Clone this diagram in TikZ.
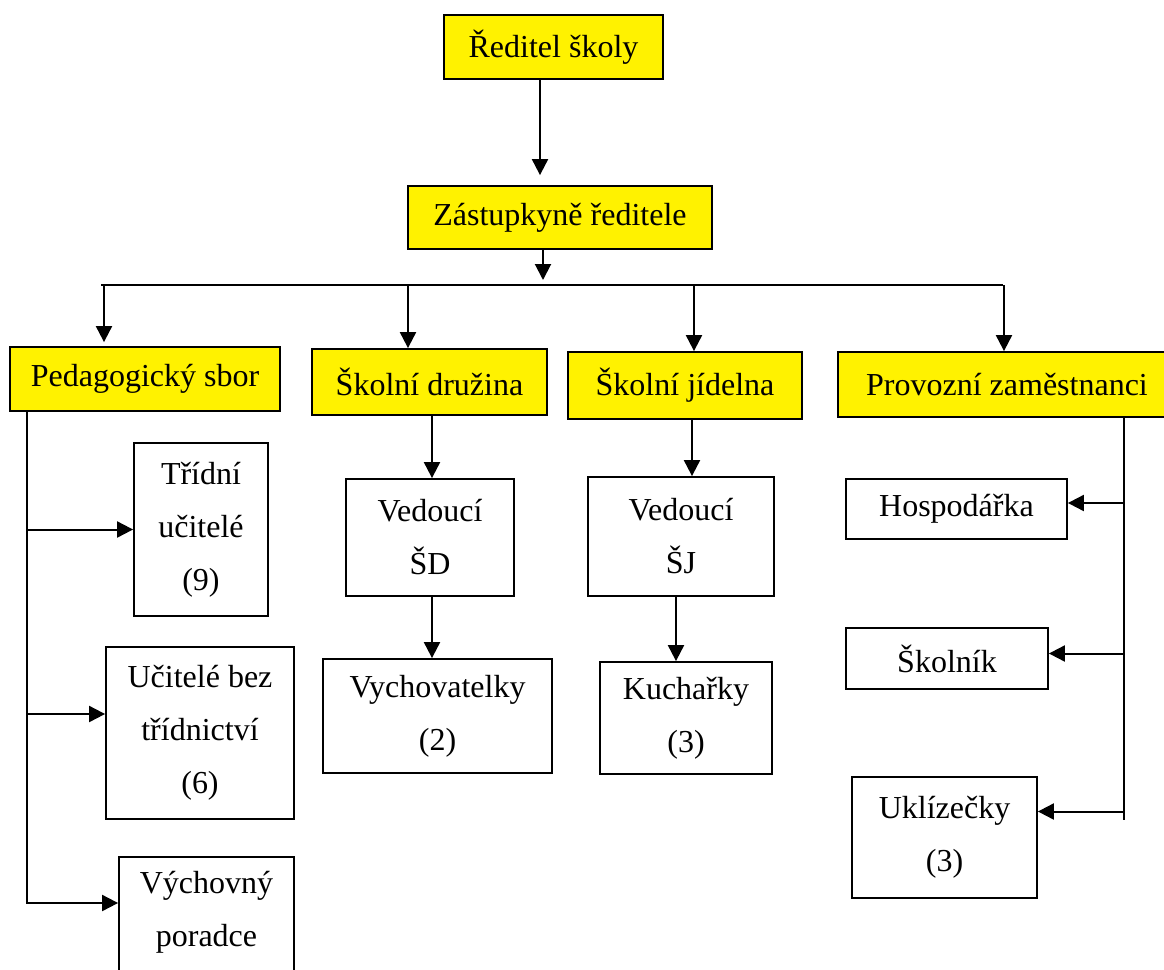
\documentclass[tikz,border=0pt]{standalone}
\usepackage{fontspec}
\setmainfont{Liberation Serif}
\usetikzlibrary{arrows.meta,positioning}

\begin{document}
\begin{tikzpicture}[
    x=0.5pt, y=-0.5pt,
    >={Triangle[length=8pt,width=8pt]},
    every node/.style={font=\fontsize{16}{26.5}\selectfont},
    head/.style={
        rectangle,
        draw,
        fill=yellow,
        line width=0.9pt,
        inner sep=0pt,
        align=center
    },
    unit/.style={
        rectangle,
        draw,
        line width=0.9pt,
        inner sep=0pt,
        align=center
    },
    line/.style={draw, ->, line width=1pt},
    plain/.style={draw, line width=1pt}
]

\useasboundingbox (0,0) rectangle (1164,970);
\clip (0,0) rectangle (1164,970);

% vedeni
\node[head, minimum width=109.5pt, minimum height=32pt] (reditel) at (553.5,47) {Ředitel školy};
\node[head, minimum width=152pt, minimum height=31.5pt] (zastupce) at (560,217.5) {Zástupkyně ředitele};

% useky
\node[head, minimum width=135pt, minimum height=32pt] (pedsbor) at (145,379) {Pedagogický sbor};
\node[head, minimum width=117.5pt, minimum height=33pt] (druzina) at (429.5,382) {Školní družina};
\node[head, minimum width=117pt, minimum height=33.5pt] (jidelna) at (685,385.5) {Školní jídelna};
\node[head, minimum width=169pt, minimum height=32.5pt] (provoz) at (1007,384.5) {Provozní zaměstnanci};

% pracovnici
\node[unit, minimum width=67pt, minimum height=86.5pt] (tridni) at (201,529.5) {Třídní\\učitelé\\(9)};
\node[unit, minimum width=94pt, minimum height=86pt] (bezTr) at (200,733) {Učitelé bez\\třídnictví\\(6)};
\node[unit, minimum width=87.5pt, minimum height=86.5pt, anchor=north] (poradce) at (206.5,856) {Výchovný\\poradce\\\strut};
\node[unit, minimum width=84pt, minimum height=58.5pt] (vedSD) at (430,537.5) {Vedoucí\\ŠD};
\node[unit, minimum width=114.5pt, minimum height=57pt] (vychov) at (437.5,716) {Vychovatelky\\(2)};
\node[unit, minimum width=93pt, minimum height=59.5pt] (vedSJ) at (681,536.5) {Vedoucí\\ŠJ};
\node[unit, minimum width=86pt, minimum height=56pt] (kuchar) at (686,718) {Kuchařky\\(3)};
\node[unit, minimum width=110.5pt, minimum height=30pt] (hospod) at (956.5,509) {Hospodářka};
\node[unit, minimum width=101pt, minimum height=30.5pt] (skolnik) at (947,658.5) {Školník};
\node[unit, minimum width=92.5pt, minimum height=60.5pt] (uklid) at (944.5,837.5) {Uklízečky\\(3)};

% body vedeni
\coordinate (k0) at (540,0);
\coordinate (k1) at (543,285);
\coordinate (busL) at (101,285);
\coordinate (busR) at (1003,285);
\coordinate (d1) at (104,285);
\coordinate (d2) at (408,285);
\coordinate (d3) at (694,285);
\coordinate (d4) at (1004,285);
\coordinate (k2) at (432,0);
\coordinate (k3) at (692,0);
\coordinate (k4) at (676,0);
\coordinate (spL) at (27,903);
\coordinate (spR) at (1124,820);

\draw[line, shorten >=5pt] (reditel.south -| k0) -- (zastupce.north -| k0);
\draw[line, shorten >=2.5pt] (zastupce.south -| k1) -- (k1);
\draw[plain] (busL) -- (busR);
\draw[line, shorten >=2pt] (d1) -- (pedsbor.north -| d1);
\draw[line] (d2) -- (druzina.north -| d2);
\draw[line] (d3) -- (jidelna.north -| d3);
\draw[line] (d4) -- (provoz.north -| d4);

\draw[line] (druzina.south -| k2) -- (vedSD.north -| k2);
\draw[line] (vedSD.south -| k2) -- (vychov.north -| k2);
\draw[line] (jidelna.south -| k3) -- (vedSJ.north -| k3);
\draw[line] (vedSJ.south -| k4) -- (kuchar.north -| k4);

% pedagogicky sbor
\coordinate (bezIn) at ([yshift=9.5pt]bezTr.west);
\draw[line] (pedsbor.south -| spL) -- (spL) -- (poradce.west |- spL);
\draw[line] (spL |- tridni) -- (tridni.west);
\draw[line] (spL |- bezIn) -- (bezIn);

% provozni zamestnanci
\coordinate (hospIn) at ([yshift=3pt]hospod.east);
\coordinate (skolIn) at ([yshift=2.5pt]skolnik.east);
\coordinate (uklIn) at ([yshift=13pt]uklid.east);
\draw[plain] (provoz.south -| spR) -- (spR);
\draw[line] (spR |- hospIn) -- (hospIn);
\draw[line] (spR |- skolIn) -- (skolIn);
\draw[line] (spR |- uklIn) -- (uklIn);

\end{tikzpicture}
\end{document}
